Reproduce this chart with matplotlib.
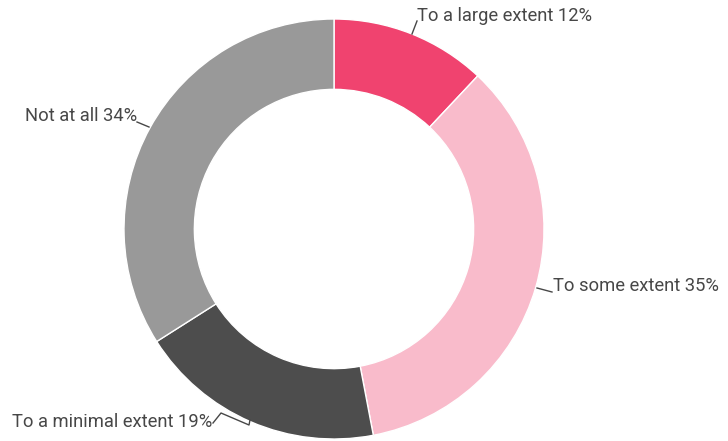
import matplotlib.pyplot as plt

labels = ["To a large extent", "To some extent", "To a minimal extent", "Not at all"]
values = [12, 35, 19, 34]
colors = ["#F0436F", "#F9BBCB", "#4D4D4D", "#999999"]

W, H = 728, 441
plt.rcParams['font.family'] = ['Roboto', 'DejaVu Sans']

fig = plt.figure(figsize=(W / 100, H / 100), dpi=100)
ax = fig.add_axes([0, 0, 1, 1])

# pie center and radius in pixels (y counted from the bottom)
cx, cy, r = 334, H - 229, 210
ax.pie(values, colors=colors, startangle=90, counterclock=False,
       center=(cx, cy), radius=r, frame=True,
       wedgeprops=dict(width=r * 0.335, edgecolor="white", linewidth=1))
ax.set_xlim(0, W)
ax.set_ylim(0, H)
ax.set_aspect('equal')
ax.axis('off')

txt = dict(fontsize=13.2, color="#474747", va="center")
line = dict(color="#474747", lw=1)

def top(y):
    return H - y

# leader lines and labels (coordinates from the top of the image)
ax.plot([412, 417], [top(34), top(21)], **line)
ax.text(417, top(16), f"{labels[0]} {values[0]}%", ha="left", **txt)

ax.plot([537, 552], [top(288), top(292)], **line)
ax.text(553, top(286), f"{labels[1]} {values[1]}%", ha="left", **txt)

ax.plot([213, 221, 249, 250], [top(423), top(413), top(425), top(420)], **line)
ax.text(212, top(422), f"{labels[2]} {values[2]}%", ha="right", **txt)

ax.plot([137, 149], [top(122), top(127)], **line)
ax.text(137, top(116), f"{labels[3]} {values[3]}%", ha="right", **txt)

fig.savefig("out.png", dpi=100)
